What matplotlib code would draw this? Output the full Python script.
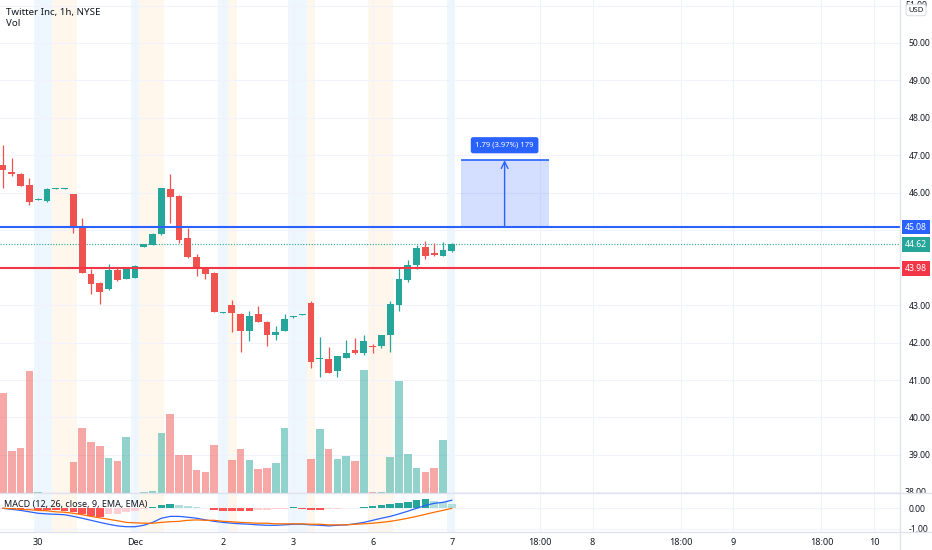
import matplotlib
matplotlib.use("Agg")
import numpy as np
import matplotlib.pyplot as plt
from matplotlib.lines import Line2D
from matplotlib.patches import Rectangle
from matplotlib.transforms import blended_transform_factory, Bbox, TransformedBbox

plt.rcParams['font.family'] = ['Noto Sans', 'DejaVu Sans']

# hourly bars, Twitter (NYSE)
opens = [46.75, 46.56, 46.50, 46.21, 45.82, 45.79, 46.10, 46.10, 45.97, 45.12,
         43.84, 43.60, 43.44, 43.95, 43.71, 43.73, 44.55, 44.61, 44.91, 46.11,
         45.92, 44.80, 44.29, 44.00, 43.87, 42.79, 43.01, 42.77, 42.32, 42.77,
         42.56, 42.21, 42.32, 42.68, 42.74, 43.07, 41.57, 41.55, 41.23, 41.60,
         41.79, 41.73, 41.90, 41.92, 42.21, 43.01, 43.68, 44.08, 44.56, 44.40,
         44.32, 44.45]
highs = [47.28, 46.93, 46.52, 46.40, 45.85, 46.12, 46.12, 46.12, 45.98, 45.33,
         43.97, 43.62, 44.11, 44.02, 44.02, 44.07, 44.63, 44.93, 46.14, 46.51,
         45.93, 45.07, 44.37, 44.02, 43.88, 42.82, 43.15, 42.80, 42.85, 42.99,
         42.58, 42.43, 42.77, 42.70, 42.76, 43.10, 42.16, 41.87, 41.65, 42.08,
         42.13, 42.21, 41.96, 42.20, 43.12, 43.99, 44.21, 44.61, 44.72, 44.67,
         44.69, 44.66]
lows = [46.13, 46.45, 46.17, 45.68, 45.80, 45.76, 46.09, 46.09, 44.93, 43.85,
        43.31, 43.04, 43.40, 43.64, 43.70, 43.72, 44.54, 44.60, 44.88, 45.20,
        44.67, 44.27, 43.79, 43.71, 42.82, 42.78, 42.29, 41.76, 42.05, 42.55,
        41.92, 42.08, 42.30, 42.67, 42.73, 41.33, 41.09, 41.18, 41.07, 41.58,
        41.70, 41.66, 41.73, 41.85, 41.76, 42.85, 43.62, 43.97, 44.24, 44.31,
        44.30, 44.43]
closes = [46.61, 46.50, 46.19, 45.76, 45.84, 46.11, 46.11, 46.11, 45.09, 43.87,
          43.57, 43.36, 43.95, 43.68, 44.00, 44.05, 44.62, 44.91, 46.13, 45.89,
          44.75, 44.29, 44.00, 43.84, 42.83, 42.81, 42.80, 42.32, 42.72, 42.56,
          42.21, 42.29, 42.64, 42.69, 42.75, 41.49, 41.60, 41.20, 41.63, 41.73,
          41.71, 42.05, 41.88, 42.19, 43.04, 43.71, 44.08, 44.53, 44.32, 44.35,
          44.48, 44.62]
volumes = [2500, 1050, 1125, 3050, 25, 12, 12, 12, 775, 1625,
           1275, 1175, 875, 800, 1400, 12, 25, 38, 1500, 1975,
           950, 950, 575, 525, 1200, 12, 825, 1100, 825, 600,
           625, 750, 1625, 12, 12, 850, 1600, 1100, 850, 925,
           800, 3075, 20, 25, 900, 2800, 975, 625, 525, 625,
           1325, 12]

macd_line = [0.00, -0.05, -0.10, -0.17, -0.24, -0.27, -0.29, -0.31, -0.39, -0.48,
             -0.58, -0.68, -0.77, -0.85, -0.89, -0.89, -0.82, -0.68, -0.48, -0.39,
             -0.39, -0.43, -0.48, -0.56, -0.63, -0.68, -0.72, -0.75, -0.77, -0.80,
             -0.82, -0.82, -0.80, -0.77, -0.77, -0.80, -0.82, -0.85, -0.82, -0.80,
             -0.75, -0.68, -0.58, -0.48, -0.39, -0.27, -0.14, 0.00, 0.14, 0.24,
             0.29, 0.39]
signal_line = [0.00, -0.02, -0.05, -0.07, -0.10, -0.12, -0.17, -0.19, -0.24, -0.31,
               -0.39, -0.46, -0.53, -0.60, -0.68, -0.70, -0.72, -0.72, -0.68, -0.65,
               -0.63, -0.58, -0.56, -0.58, -0.58, -0.63, -0.65, -0.68, -0.70, -0.72,
               -0.72, -0.75, -0.75, -0.75, -0.75, -0.77, -0.77, -0.80, -0.80, -0.80,
               -0.77, -0.75, -0.72, -0.68, -0.63, -0.56, -0.48, -0.39, -0.29, -0.19,
               -0.10, 0.00]
macd_hist = [-0.03, -0.04, -0.05, -0.05, -0.06, -0.08, -0.10, -0.12, -0.20, -0.29,
             -0.35, -0.40, -0.29, -0.26, -0.19, -0.13, -0.03, 0.08, 0.16, 0.22,
             0.16, 0.10, 0.06, 0.03, -0.08, -0.11, -0.13, -0.14, -0.15, -0.08,
             -0.06, -0.05, -0.03, 0.05, -0.05, -0.07, -0.08, -0.03, -0.02, 0.02,
             0.03, 0.06, 0.10, 0.14, 0.20, 0.24, 0.32, 0.40, 0.45, 0.35,
             0.32, 0.20]

# extended-hours shading, in bar units
post_market = [(3.5, 5.6), (14.55, 15.45), (24.4, 25.55), (32.4, 34.55), (50.45, 51.35)]
pre_market = [(5.6, 8.4), (15.45, 18.3), (25.55, 26.6), (34.55, 35.45), (41.5, 44.3)]

tick_pos = [4, 15, 25, 33, 42, 51, 61, 67, 77, 83, 93, 99]
tick_labels = ["30", "Dec", "2", "3", "6", "7", "18:00", "8", "18:00", "9", "18:00", "10"]

resistance = 45.08
support = 43.98
target = 46.87
range_start, range_end = 52, 62

UP, DOWN = '#26A69A', '#EF5350'
TXT = '#131722'
GRID = '#F0F3FA'
SEP = '#E0E3EB'
FS = 6.2

W, H = 932, 550
fig = plt.figure(figsize=(W / 100, H / 100), dpi=100)


def rect(x0, y0, x1, y1):
    return [x0 / W, 1 - y1 / H, (x1 - x0) / W, (y1 - y0) / H]


ax_vol = fig.add_axes(rect(0, 0, 900, 493))
ax = fig.add_axes(rect(0, 0, 900, 493), sharex=ax_vol)
ax_m = fig.add_axes(rect(0, 493, 900, 532), sharex=ax_vol)
ax.patch.set_visible(False)

x = np.arange(len(opens))
o, h, l, c = map(np.array, (opens, highs, lows, closes))
up = c >= o
colors = np.where(up, UP, DOWN)

ax.set_xlim(-0.34, 101.93)
ax.set_ylim(37.984, 51.148)
ax_vol.set_ylim(0, 12325)
ax_m.set_ylim(-1.145, 0.74)

for a in (ax_vol, ax_m):
    for s, e in post_market:
        a.axvspan(s, e, color='#2196F3', alpha=0.075, lw=0, zorder=0)
    for s, e in pre_market:
        a.axvspan(s, e, color='#FF9800', alpha=0.075, lw=0, zorder=0)
    for t in tick_pos:
        a.axvline(t, color=GRID, lw=0.8, zorder=0.5)

# horizontal grid behind the volume bars
tr = blended_transform_factory(ax_vol.transAxes, ax.transData)
for p in range(38, 52):
    ax_vol.plot([0, 1], [p, p], transform=tr, color=GRID, lw=0.8, zorder=0.5)
for p in (0, -1):
    ax_m.axhline(p, color=GRID, lw=0.8, zorder=0.5)

# volume
ax_vol.bar(x, volumes, width=0.85, color=colors, alpha=0.5, lw=0, zorder=1)

# candles
ax.vlines(x, l, h, colors=colors, lw=0.9, zorder=3)
ax.bar(x, np.maximum(np.abs(c - o), 0.025), bottom=np.minimum(o, c), width=0.78,
       color=colors, lw=0, zorder=4)

# levels
ax.axhline(resistance, color='#2962FF', lw=1.5, zorder=5)
ax.axhline(support, color='#F23645', lw=1.5, zorder=5)
ax.axhline(closes[-1], color=UP, lw=0.8, ls=(0, (1, 1.5)), zorder=2)

# price range tool
diff = target - resistance
ax.add_patch(Rectangle((range_start, resistance), range_end - range_start, diff,
                       facecolor='#2962FF', alpha=0.2, edgecolor='none', zorder=2))
ax.hlines(target, range_start, range_end, color='#2962FF', lw=1.2, zorder=5)
mid = (range_start + range_end) / 2
ax.annotate('', xy=(mid, target), xytext=(mid, resistance),
            arrowprops=dict(arrowstyle='->', color='#2962FF', lw=1, shrinkA=0, shrinkB=0,
                            mutation_scale=12), zorder=6)
ax.text(mid, target + 0.4, f"{diff:.2f} ({diff / resistance * 100:.2f}%) {diff * 100:.0f}",
        ha='center', va='center', fontsize=5.5, color='white', zorder=7,
        bbox=dict(boxstyle='round,pad=0.6,rounding_size=0.3', fc='#2962FF', ec='none'))

# axes cosmetics
for a in (ax, ax_vol, ax_m):
    for s in a.spines.values():
        s.set_visible(False)
ax_vol.tick_params(left=False, labelleft=False, bottom=False, labelbottom=False)
ax.tick_params(axis='x', bottom=False, labelbottom=False)
ax.yaxis.tick_right()
price_ticks = [39, 40, 41, 42, 43, 46, 47, 48, 49, 50]
ax.set_yticks(price_ticks)
ax.set_yticklabels([f"{v:.2f}" for v in price_ticks])
ax.tick_params(axis='y', length=0, pad=6, labelsize=FS, labelcolor=TXT)

ax_m.yaxis.tick_right()
ax_m.set_yticks([0, -1])
ax_m.set_yticklabels(["0.00", "-1.00"])
ax_m.tick_params(axis='y', length=0, pad=6, labelsize=FS, labelcolor=TXT)
ax_m.set_xticks(tick_pos)
ax_m.set_xticklabels(tick_labels)
ax_m.tick_params(axis='x', length=0, pad=4, labelsize=6.5, labelcolor=TXT)
for lbl in ax_m.get_xticklabels():
    if lbl.get_text() == "Dec":
        lbl.set_fontweight('bold')

# MACD
hist = np.array(macd_hist)
prev = np.concatenate([[hist[0]], hist[:-1]])
hcol = np.where(hist >= 0, np.where(hist >= prev, '#26A69A', '#B2DFDB'),
                np.where(hist >= prev, '#FFCDD2', '#FF5252'))
ax_m.bar(x, hist, width=0.85, color=hcol, lw=0, zorder=1)
ax_m.plot(x, macd_line, color='#2962FF', lw=0.9, zorder=2)
ax_m.plot(x, signal_line, color='#FF6D00', lw=0.9, zorder=2)
ax_m.text(4 / 900, 0.7, "MACD (12, 26, close, 9, EMA, EMA)", transform=ax_m.transAxes,
          fontsize=6.5, color=TXT, va='center', zorder=5)

# price labels on the scale
lab_tr = blended_transform_factory(ax.transAxes, ax.transData)
for val, col in ((resistance, '#2962FF'), (closes[-1], UP), (support, '#F23645')):
    ax.text(916 / 900, val, f"{val:.2f}", transform=lab_tr, ha='center', va='center',
            fontsize=FS, color='white', clip_on=False,
            bbox=dict(boxstyle='square,pad=0.3', fc=col, ec='none'))

clip = TransformedBbox(Bbox.from_extents(900 / W, 1 - 493 / H, 1, 1), fig.transFigure)
for val in (51, 38):
    t = ax.text(916 / 900, val, f"{val:.2f}", transform=lab_tr, ha='center', va='center',
                fontsize=FS, color=TXT, clip_on=True)
    t.set_clip_box(clip)
fig.text(916 / W, 1 - 10 / H, "USD", ha='center', va='center', fontsize=5.5, color=TXT,
         zorder=10, bbox=dict(boxstyle='round,pad=0.3', fc='white', ec='#D1D4DC', lw=0.6))

# panel separators
fig.add_artist(Line2D([900 / W, 900 / W], [0, 1], color=SEP, lw=1))
for yy in (493, 532):
    fig.add_artist(Line2D([0, 1], [1 - yy / H, 1 - yy / H], color=SEP, lw=1))

fig.text(6 / W, 1 - 12 / H, "Twitter Inc, 1h, NYSE", fontsize=7, fontweight='bold',
         color=TXT, va='center')
fig.text(6 / W, 1 - 24 / H, "Vol", fontsize=7, color=TXT, va='center')

fig.savefig("out.png", dpi=100, facecolor='white')
